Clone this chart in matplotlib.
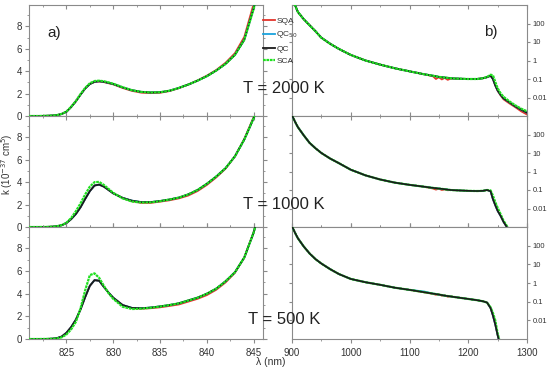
import matplotlib
matplotlib.use('Agg')
import matplotlib.pyplot as plt
from matplotlib.ticker import MultipleLocator, FixedLocator, NullLocator

plt.rcParams['font.family'] = ['Liberation Sans', 'DejaVu Sans']

# ---- panel a): k in 1e-37 cm^5 vs wavelength (nm)
wl_a = [821, 822, 823, 823.5, 824, 824.5, 825, 825.5, 826, 826.5, 827, 827.5, 828, 828.5,
        829, 829.5, 830, 831, 832, 833, 834, 835, 836, 837, 838, 839, 840, 841, 842, 843,
        844, 845, 846]

a2000_sqa = [0, 0, 0.02, 0.04, 0.08, 0.18, 0.38, 0.8, 1.3, 1.9, 2.45, 2.85, 3.03, 3.07, 3.02, 2.92,
             2.82, 2.5, 2.24, 2.08, 2.04, 2.07, 2.22, 2.48, 2.8, 3.17, 3.6, 4.1, 4.75, 5.6, 7.05, 10.0, 13.5]
a2000_qc = [0, 0, 0.02, 0.04, 0.08, 0.18, 0.38, 0.8, 1.3, 1.9, 2.45, 2.85, 3.05, 3.1, 3.05, 2.95,
            2.85, 2.55, 2.3, 2.15, 2.1, 2.12, 2.25, 2.5, 2.8, 3.15, 3.55, 4.05, 4.65, 5.45, 6.8, 9.6, 13.0]
a2000_qc50 = a2000_qc
a2000_sca = [0, 0, 0.02, 0.04, 0.08, 0.19, 0.4, 0.82, 1.33, 1.95, 2.5, 2.92, 3.12, 3.15, 3.1, 3.0,
             2.88, 2.57, 2.3, 2.15, 2.1, 2.12, 2.25, 2.5, 2.8, 3.15, 3.55, 4.05, 4.65, 5.45, 6.8, 9.55, 13.0]

a1000_sqa = [0, 0, 0.01, 0.03, 0.07, 0.16, 0.35, 0.7, 1.15, 1.75, 2.5, 3.2, 3.7, 3.78, 3.6, 3.3,
             3.0, 2.6, 2.3, 2.15, 2.15, 2.26, 2.38, 2.55, 2.8, 3.2, 3.75, 4.42, 5.2, 6.3, 7.85, 9.8, 12.6]
a1000_qc = [0, 0, 0.01, 0.03, 0.07, 0.16, 0.35, 0.7, 1.15, 1.75, 2.5, 3.2, 3.7, 3.78, 3.6, 3.3,
            3.0, 2.6, 2.35, 2.22, 2.22, 2.32, 2.45, 2.62, 2.9, 3.3, 3.85, 4.5, 5.25, 6.3, 7.8, 9.7, 12.5]
a1000_qc50 = a1000_qc
a1000_sca = [0, 0, 0.01, 0.03, 0.07, 0.17, 0.38, 0.8, 1.4, 2.1, 2.9, 3.6, 4.0, 4.02, 3.75, 3.4,
             3.05, 2.55, 2.27, 2.18, 2.2, 2.3, 2.45, 2.62, 2.9, 3.3, 3.85, 4.5, 5.25, 6.3, 7.8, 9.7, 12.5]

a500_sqa = [0, 0, 0.01, 0.03, 0.08, 0.22, 0.55, 1.05, 1.7, 2.6, 3.7, 4.7, 5.2, 5.15, 4.6, 4.1,
            3.65, 3.0, 2.72, 2.68, 2.72, 2.8, 2.92, 3.05, 3.3, 3.55, 3.88, 4.35, 5.0, 5.85, 7.2, 9.45, 12.6]
a500_qc = [0, 0, 0.01, 0.03, 0.08, 0.22, 0.55, 1.05, 1.7, 2.6, 3.7, 4.7, 5.2, 5.15, 4.6, 4.1,
           3.65, 3.0, 2.75, 2.72, 2.78, 2.88, 3.0, 3.15, 3.4, 3.65, 4.0, 4.45, 5.1, 5.9, 7.2, 9.4, 12.5]
a500_qc50 = a500_qc
a500_sca = [0, 0, 0.01, 0.02, 0.05, 0.15, 0.4, 0.85, 1.5, 2.7, 4.3, 5.65, 5.8, 5.4, 4.7, 4.05,
            3.55, 2.85, 2.65, 2.68, 2.76, 2.87, 3.0, 3.15, 3.4, 3.65, 4.0, 4.45, 5.1, 5.9, 7.2, 9.4, 12.5]

# ---- panel b): k (log scale) vs wavelength (nm)
wl_b = [900, 905, 910, 920, 930, 940, 950, 965, 980, 1000, 1025, 1050, 1075, 1100, 1125,
        1140, 1145, 1150, 1155, 1160, 1165, 1170, 1175, 1200, 1215, 1225, 1232, 1238, 1242,
        1246, 1250, 1255, 1260, 1270, 1280, 1290, 1300]

b2000_qc = [1500, 1000, 420, 170, 80, 38, 17, 8, 4.2, 2.0, 1.0, 0.6, 0.38, 0.26, 0.18,
            0.15, 0.14, 0.13, 0.125, 0.12, 0.115, 0.11, 0.107, 0.1, 0.1, 0.11, 0.125, 0.15, 0.1,
            0.045, 0.024, 0.014, 0.009, 0.0055, 0.0033, 0.0022, 0.0015]
b2000_sqa = [1500, 1000, 420, 170, 80, 38, 17, 8, 4.2, 2.0, 1.0, 0.6, 0.38, 0.26, 0.18,
             0.14, 0.1, 0.125, 0.095, 0.115, 0.09, 0.105, 0.105, 0.1, 0.1, 0.11, 0.125, 0.15, 0.1,
             0.045, 0.023, 0.013, 0.008, 0.0048, 0.003, 0.0018, 0.0012]
b2000_qc50 = b2000_qc
b2000_sca = [1500, 1000, 420, 170, 80, 38, 17, 8, 4.2, 2.0, 1.0, 0.6, 0.38, 0.26, 0.18,
             0.15, 0.14, 0.13, 0.125, 0.12, 0.115, 0.11, 0.107, 0.1, 0.1, 0.11, 0.13, 0.17, 0.16,
             0.07, 0.032, 0.017, 0.011, 0.0062, 0.0038, 0.0025, 0.0018]

b1000_qc = [1100, 500, 250, 90, 35, 18, 10, 5, 2.8, 1.25, 0.62, 0.37, 0.25, 0.19, 0.15,
            0.13, 0.125, 0.12, 0.115, 0.11, 0.105, 0.1, 0.098, 0.09, 0.088, 0.09, 0.1, 0.085, 0.032,
            0.015, 0.0075, 0.004, 0.0019, 0.0006, 0.0003, 0.0002, 0.0001]
b1000_sqa = [1100, 500, 250, 90, 35, 18, 10, 5, 2.8, 1.25, 0.62, 0.37, 0.25, 0.19, 0.15,
             0.12, 0.105, 0.118, 0.1, 0.108, 0.097, 0.1, 0.098, 0.09, 0.088, 0.09, 0.1, 0.085, 0.032,
             0.015, 0.0075, 0.004, 0.0019, 0.0006, 0.0003, 0.0002, 0.0001]
b1000_qc50 = b1000_qc
b1000_sca = [1100, 500, 250, 90, 35, 18, 10, 5, 2.8, 1.25, 0.62, 0.37, 0.25, 0.19, 0.15,
             0.13, 0.125, 0.12, 0.115, 0.11, 0.105, 0.1, 0.098, 0.09, 0.088, 0.09, 0.1, 0.095, 0.05,
             0.022, 0.011, 0.005, 0.0022, 0.0007, 0.0003, 0.0002, 0.0001]

b500_qc = [1100, 500, 250, 90, 38, 19, 11, 5.5, 3.0, 1.65, 1.1, 0.8, 0.56, 0.43, 0.32,
           0.27, 0.255, 0.24, 0.225, 0.21, 0.2, 0.19, 0.18, 0.14, 0.12, 0.105, 0.09, 0.045, 0.018,
           0.006, 0.0016, 0.0004, 0.0001, 0.0001, 0.0001, 0.0001, 0.0001]
b500_sqa = [1100, 500, 250, 90, 38, 19, 11, 5.5, 3.0, 1.65, 1.1, 0.8, 0.56, 0.43, 0.32,
            0.26, 0.235, 0.25, 0.21, 0.22, 0.185, 0.195, 0.18, 0.14, 0.12, 0.105, 0.09, 0.045, 0.018,
            0.006, 0.0016, 0.0004, 0.0001, 0.0001, 0.0001, 0.0001, 0.0001]
b500_qc50 = [1100, 500, 250, 90, 38, 19, 11, 5.5, 3.0, 1.65, 1.1, 0.8, 0.56, 0.43, 0.35,
             0.27, 0.255, 0.24, 0.225, 0.21, 0.2, 0.19, 0.18, 0.14, 0.12, 0.105, 0.09, 0.045, 0.018,
             0.006, 0.0016, 0.0004, 0.0001, 0.0001, 0.0001, 0.0001, 0.0001]
b500_sca = [1100, 500, 250, 90, 38, 19, 11, 5.5, 3.0, 1.65, 1.1, 0.8, 0.56, 0.43, 0.32,
            0.27, 0.255, 0.24, 0.225, 0.21, 0.2, 0.19, 0.18, 0.14, 0.12, 0.105, 0.09, 0.05, 0.025,
            0.01, 0.002, 0.0005, 0.0001, 0.0001, 0.0001, 0.0001, 0.0001]

temps = ['T = 2000 K', 'T = 1000 K', 'T = 500 K']
series_a = [(a2000_sqa, a2000_qc50, a2000_qc, a2000_sca),
            (a1000_sqa, a1000_qc50, a1000_qc, a1000_sca),
            (a500_sqa, a500_qc50, a500_qc, a500_sca)]
series_b = [(b2000_sqa, b2000_qc50, b2000_qc, b2000_sca),
            (b1000_sqa, b1000_qc50, b1000_qc, b1000_sca),
            (b500_sqa, b500_qc50, b500_qc, b500_sca)]

RED = '#e3342b'
CYAN = '#1aa3dd'
BLACK = '#1a1a1a'
GREEN = '#1fe01f'
SPINE = '#8a8a8a'
GREEN_LS = (0, (1.2, 0.35))

fig = plt.figure(figsize=(5.5, 3.72), dpi=100)

W, H = 550.0, 372.0
row_edges = [(5, 116), (116, 227), (227, 339)]
col_a = (29, 263)
col_b = (292, 527)


def style_axes(ax):
    for sp in ax.spines.values():
        sp.set_color(SPINE)
        sp.set_linewidth(0.8)
    ax.tick_params(which='both', colors=SPINE, labelcolor='#333333')


legend_handles = None
for i, (top, bot) in enumerate(row_edges):
    # ---- left column
    ax = fig.add_axes([col_a[0] / W, 1 - bot / H, (col_a[1] - col_a[0]) / W, (bot - top) / H])
    sqa, qc50, qc, sca = series_a[i]
    h1, = ax.plot(wl_a, sqa, color=RED, lw=1.3, label='SQA', zorder=2)
    h2, = ax.plot(wl_a, qc50, color=CYAN, lw=1.3, label='QC$_{50}$', zorder=3)
    h3, = ax.plot(wl_a, qc, color=BLACK, lw=1.3, label='QC', zorder=4)
    h4, = ax.plot(wl_a, sca, color=GREEN, lw=1.6, ls=GREEN_LS, label='SCA', zorder=5)
    if legend_handles is None:
        legend_handles = [h1, h2, h3, h4]
    ax.set_xlim(821, 846)
    ax.set_ylim(0, 9.9)
    ax.xaxis.set_major_locator(MultipleLocator(5))
    ax.xaxis.set_minor_locator(MultipleLocator(2.5))
    ax.yaxis.set_major_locator(MultipleLocator(2))
    ax.yaxis.set_minor_locator(MultipleLocator(1))
    style_axes(ax)
    ax.tick_params(axis='y', which='both', left=True, right=True, direction='out',
                   labelsize=7, pad=2)
    ax.tick_params(axis='y', which='major', length=3)
    ax.tick_params(axis='y', which='minor', length=1.5)
    ax.tick_params(axis='x', which='both', top=True, bottom=True,
                   direction='out' if i == 2 else 'in', labelsize=7)
    ax.tick_params(axis='x', which='major', length=3)
    ax.tick_params(axis='x', which='minor', length=1.5)
    if i < 2:
        ax.tick_params(axis='x', labelbottom=False)

    # ---- right column
    bx = fig.add_axes([col_b[0] / W, 1 - bot / H, (col_b[1] - col_b[0]) / W, (bot - top) / H])
    sqa, qc50, qc, sca = series_b[i]
    bx.plot(wl_b, sqa, color=RED, lw=1.3, zorder=2)
    bx.plot(wl_b, qc50, color=CYAN, lw=1.3, zorder=3)
    if i == 0:
        bx.plot(wl_b, qc, color=BLACK, lw=1.3, zorder=4)
        bx.plot(wl_b, sca, color=GREEN, lw=1.6, ls=GREEN_LS, zorder=5)
    else:
        bx.plot(wl_b, sca, color=GREEN, lw=1.6, ls=GREEN_LS, zorder=4)
        bx.plot(wl_b, qc, color=BLACK, lw=1.2, zorder=5)
    bx.set_xlim(900, 1300)
    bx.set_yscale('log')
    bx.set_ylim(1e-3, 1e3)
    bx.yaxis.set_major_locator(FixedLocator([0.01, 0.1, 1, 10, 100]))
    bx.yaxis.set_minor_locator(NullLocator())
    bx.set_yticklabels(['0.01', '0.1', '1', '10', '100'])
    bx.xaxis.set_major_locator(MultipleLocator(100))
    bx.xaxis.set_minor_locator(MultipleLocator(50))
    style_axes(bx)
    bx.tick_params(axis='y', which='both', left=True, right=True, labelleft=False,
                   labelright=True, direction='out', length=2.5, labelsize=5.5, pad=1.5)
    bx.tick_params(axis='x', which='both', top=True, bottom=True,
                   direction='out' if i == 2 else 'in', labelsize=7)
    bx.tick_params(axis='x', which='major', length=3)
    bx.tick_params(axis='x', which='minor', length=1.5)
    if i < 2:
        bx.tick_params(axis='x', labelbottom=False)

    # temperature label between the columns
    fig.text(284 / W, 1 - [88.5, 205, 320][i] / H, temps[i], ha='center', va='center',
             fontsize=12, color='#222222')

fig.text(54 / W, 1 - 32.5 / H, 'a)', ha='center', va='center', fontsize=11, color='#222222')
fig.text(491 / W, 1 - 32 / H, 'b)', ha='center', va='center', fontsize=11, color='#222222')

fig.text(7 / W, 1 - 164 / H, 'k (10$^{-37}$ cm$^{5}$)', rotation=90, ha='center', va='center',
         fontsize=7, color='#333333')
fig.text(271 / W, 1 - 362 / H, 'λ (nm)', ha='center', va='center', fontsize=7.5, color='#333333')

leg = fig.legend(handles=legend_handles, loc='upper left', bbox_to_anchor=(263 / W, 1 - 17 / H),
                 frameon=False, fontsize=6, handlelength=1.4, handletextpad=0.2,
                 labelspacing=0.55, borderaxespad=0, borderpad=0)
for t in leg.get_texts():
    t.set_color('#333333')

fig.savefig('out.png', dpi=100)
